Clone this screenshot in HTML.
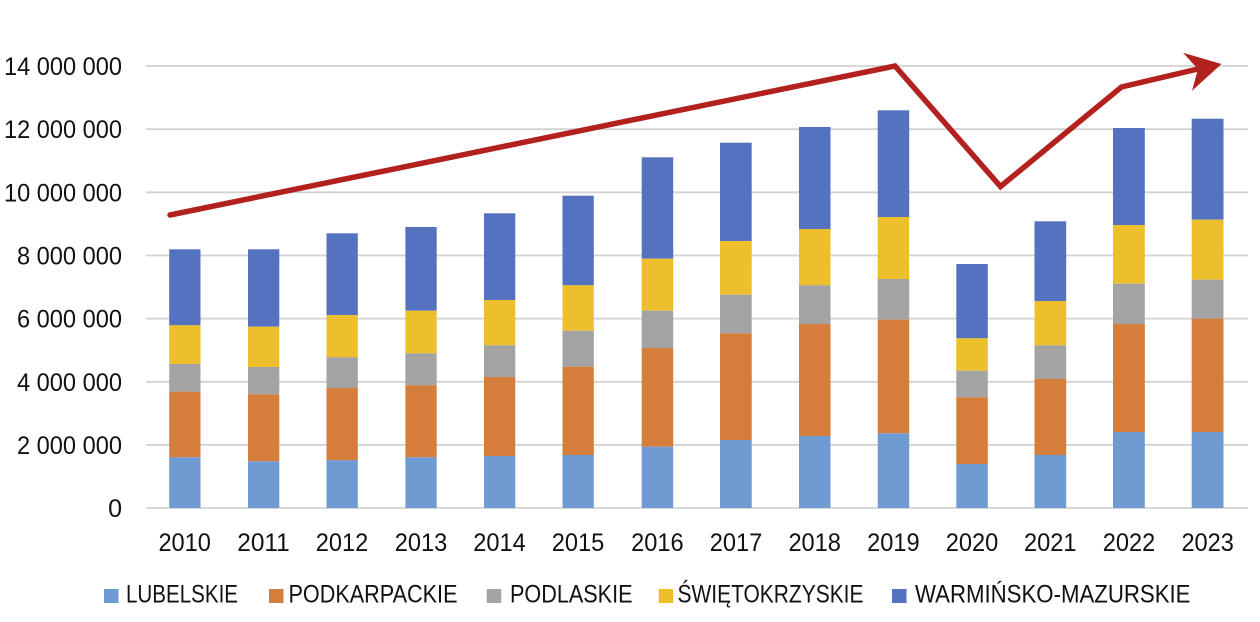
<!DOCTYPE html>
<html>
<head>
<meta charset="utf-8">
<style>
html,body{margin:0;padding:0;background:#fff;}
svg{display:block;}
text{font-family:"Liberation Sans",sans-serif;fill:#111;}
</style>
</head>
<body>
<svg width="1260" height="622" viewBox="0 0 1260 622" xmlns="http://www.w3.org/2000/svg">
<rect width="1260" height="622" fill="#fff"/>
<!-- gridlines -->
<g stroke="#d2d2d2" stroke-width="1.8">
<line x1="146" y1="66" x2="1248" y2="66"/>
<line x1="146" y1="129.2" x2="1248" y2="129.2"/>
<line x1="146" y1="192.3" x2="1248" y2="192.3"/>
<line x1="146" y1="255.5" x2="1248" y2="255.5"/>
<line x1="146" y1="318.6" x2="1248" y2="318.6"/>
<line x1="146" y1="381.8" x2="1248" y2="381.8"/>
<line x1="146" y1="444.9" x2="1248" y2="444.9"/>
<line x1="146" y1="508" x2="1248" y2="508"/>
</g>
<!-- y labels -->
<g font-size="25" text-anchor="end">
<text x="122" y="75" textLength="118" lengthAdjust="spacingAndGlyphs">14 000 000</text>
<text x="122" y="138.2" textLength="118" lengthAdjust="spacingAndGlyphs">12 000 000</text>
<text x="122" y="201.3" textLength="118" lengthAdjust="spacingAndGlyphs">10 000 000</text>
<text x="122" y="264.5" textLength="105" lengthAdjust="spacingAndGlyphs">8 000 000</text>
<text x="122" y="327.6" textLength="105" lengthAdjust="spacingAndGlyphs">6 000 000</text>
<text x="122" y="390.8" textLength="105" lengthAdjust="spacingAndGlyphs">4 000 000</text>
<text x="122" y="453.9" textLength="105" lengthAdjust="spacingAndGlyphs">2 000 000</text>
<text x="122" y="517">0</text>
</g>
<g>
<!-- 2010 -->
<rect x="169.2" y="249.3" width="31.3" height="76" fill="#5572c0"/>
<rect x="169.2" y="325.3" width="31.3" height="38.7" fill="#eebf2d"/>
<rect x="169.2" y="364" width="31.3" height="27.7" fill="#a3a3a3"/>
<rect x="169.2" y="391.7" width="31.3" height="65.6" fill="#d57d3a"/>
<rect x="169.2" y="457.3" width="31.3" height="50.7" fill="#709ad2"/>
<!-- 2011 -->
<rect x="248" y="249.3" width="31.3" height="77.4" fill="#5572c0"/>
<rect x="248" y="326.7" width="31.3" height="40.3" fill="#eebf2d"/>
<rect x="248" y="367" width="31.3" height="27.3" fill="#a3a3a3"/>
<rect x="248" y="394.3" width="31.3" height="67" fill="#d57d3a"/>
<rect x="248" y="461.3" width="31.3" height="46.7" fill="#709ad2"/>
<!-- 2012 -->
<rect x="326.5" y="233.3" width="31.3" height="81.7" fill="#5572c0"/>
<rect x="326.5" y="315" width="31.3" height="42.3" fill="#eebf2d"/>
<rect x="326.5" y="357.3" width="31.3" height="30.7" fill="#a3a3a3"/>
<rect x="326.5" y="388" width="31.3" height="72.3" fill="#d57d3a"/>
<rect x="326.5" y="460.3" width="31.3" height="47.7" fill="#709ad2"/>
<!-- 2013 -->
<rect x="405.4" y="227" width="31.3" height="83.7" fill="#5572c0"/>
<rect x="405.4" y="310.7" width="31.3" height="42.6" fill="#eebf2d"/>
<rect x="405.4" y="353.3" width="31.3" height="32" fill="#a3a3a3"/>
<rect x="405.4" y="385.3" width="31.3" height="72" fill="#d57d3a"/>
<rect x="405.4" y="457.3" width="31.3" height="50.7" fill="#709ad2"/>
<!-- 2014 -->
<rect x="484" y="213.3" width="31.3" height="86.7" fill="#5572c0"/>
<rect x="484" y="300" width="31.3" height="45.3" fill="#eebf2d"/>
<rect x="484" y="345.3" width="31.3" height="31.7" fill="#a3a3a3"/>
<rect x="484" y="377" width="31.3" height="79" fill="#d57d3a"/>
<rect x="484" y="456" width="31.3" height="52" fill="#709ad2"/>
<!-- 2015 -->
<rect x="562.5" y="195.7" width="31.3" height="89.6" fill="#5572c0"/>
<rect x="562.5" y="285.3" width="31.3" height="45.4" fill="#eebf2d"/>
<rect x="562.5" y="330.7" width="31.3" height="36" fill="#a3a3a3"/>
<rect x="562.5" y="366.7" width="31.3" height="88.3" fill="#d57d3a"/>
<rect x="562.5" y="455" width="31.3" height="53" fill="#709ad2"/>
<!-- 2016 -->
<rect x="641.7" y="157.3" width="31.5" height="101.4" fill="#5572c0"/>
<rect x="641.7" y="258.7" width="31.5" height="52" fill="#eebf2d"/>
<rect x="641.7" y="310.7" width="31.5" height="37.3" fill="#a3a3a3"/>
<rect x="641.7" y="348" width="31.5" height="98.7" fill="#d57d3a"/>
<rect x="641.7" y="446.7" width="31.5" height="61.3" fill="#709ad2"/>
<!-- 2017 -->
<rect x="720" y="142.7" width="31.7" height="98.3" fill="#5572c0"/>
<rect x="720" y="241" width="31.7" height="53.7" fill="#eebf2d"/>
<rect x="720" y="294.7" width="31.7" height="38.6" fill="#a3a3a3"/>
<rect x="720" y="333.3" width="31.7" height="106.7" fill="#d57d3a"/>
<rect x="720" y="440" width="31.7" height="68" fill="#709ad2"/>
<!-- 2018 -->
<rect x="799" y="127" width="31.5" height="102" fill="#5572c0"/>
<rect x="799" y="229" width="31.5" height="56.3" fill="#eebf2d"/>
<rect x="799" y="285.3" width="31.5" height="38.7" fill="#a3a3a3"/>
<rect x="799" y="324" width="31.5" height="112" fill="#d57d3a"/>
<rect x="799" y="436" width="31.5" height="72" fill="#709ad2"/>
<!-- 2019 -->
<rect x="877.7" y="110.3" width="31.5" height="106.7" fill="#5572c0"/>
<rect x="877.7" y="217" width="31.5" height="62" fill="#eebf2d"/>
<rect x="877.7" y="279" width="31.5" height="40.7" fill="#a3a3a3"/>
<rect x="877.7" y="319.7" width="31.5" height="113.6" fill="#d57d3a"/>
<rect x="877.7" y="433.3" width="31.5" height="74.7" fill="#709ad2"/>
<!-- 2020 -->
<rect x="956.3" y="264" width="31.5" height="74.3" fill="#5572c0"/>
<rect x="956.3" y="338.3" width="31.5" height="32.4" fill="#eebf2d"/>
<rect x="956.3" y="370.7" width="31.5" height="26.6" fill="#a3a3a3"/>
<rect x="956.3" y="397.3" width="31.5" height="66.7" fill="#d57d3a"/>
<rect x="956.3" y="464" width="31.5" height="44" fill="#709ad2"/>
<!-- 2021 -->
<rect x="1034.5" y="221.3" width="31.7" height="79.7" fill="#5572c0"/>
<rect x="1034.5" y="301" width="31.7" height="44.3" fill="#eebf2d"/>
<rect x="1034.5" y="345.3" width="31.7" height="33.7" fill="#a3a3a3"/>
<rect x="1034.5" y="379" width="31.7" height="76" fill="#d57d3a"/>
<rect x="1034.5" y="455" width="31.7" height="53" fill="#709ad2"/>
<!-- 2022 -->
<rect x="1113" y="128" width="31.8" height="97" fill="#5572c0"/>
<rect x="1113" y="225" width="31.8" height="58.7" fill="#eebf2d"/>
<rect x="1113" y="283.7" width="31.8" height="40.3" fill="#a3a3a3"/>
<rect x="1113" y="324" width="31.8" height="108" fill="#d57d3a"/>
<rect x="1113" y="432" width="31.8" height="76" fill="#709ad2"/>
<!-- 2023 -->
<rect x="1191.7" y="118.7" width="31.8" height="101" fill="#5572c0"/>
<rect x="1191.7" y="219.7" width="31.8" height="60" fill="#eebf2d"/>
<rect x="1191.7" y="279.7" width="31.8" height="39" fill="#a3a3a3"/>
<rect x="1191.7" y="318.7" width="31.8" height="113.3" fill="#d57d3a"/>
<rect x="1191.7" y="432" width="31.8" height="76" fill="#709ad2"/>
</g>
<!-- red trend line -->
<polyline points="170,215 895,66 1000.5,186.5 1121.5,87 1200,68.5" fill="none" stroke="#b3211e" stroke-width="5.5" stroke-linejoin="miter" stroke-miterlimit="10" stroke-linecap="round"/>
<polygon points="1221.5,64 1183,52.7 1198,69 1192,90.7" fill="#b3211e"/>
<!-- x labels -->
<g font-size="25" text-anchor="middle">
<text x="184.7" y="551" textLength="52.5" lengthAdjust="spacingAndGlyphs">2010</text>
<text x="263.5" y="551" textLength="52.5" lengthAdjust="spacingAndGlyphs">2011</text>
<text x="342" y="551" textLength="52.5" lengthAdjust="spacingAndGlyphs">2012</text>
<text x="421" y="551" textLength="52.5" lengthAdjust="spacingAndGlyphs">2013</text>
<text x="499.5" y="551" textLength="52.5" lengthAdjust="spacingAndGlyphs">2014</text>
<text x="578" y="551" textLength="52.5" lengthAdjust="spacingAndGlyphs">2015</text>
<text x="657.4" y="551" textLength="52.5" lengthAdjust="spacingAndGlyphs">2016</text>
<text x="736" y="551" textLength="52.5" lengthAdjust="spacingAndGlyphs">2017</text>
<text x="814.7" y="551" textLength="52.5" lengthAdjust="spacingAndGlyphs">2018</text>
<text x="893.4" y="551" textLength="52.5" lengthAdjust="spacingAndGlyphs">2019</text>
<text x="972" y="551" textLength="52.5" lengthAdjust="spacingAndGlyphs">2020</text>
<text x="1050.3" y="551" textLength="52.5" lengthAdjust="spacingAndGlyphs">2021</text>
<text x="1129" y="551" textLength="52.5" lengthAdjust="spacingAndGlyphs">2022</text>
<text x="1207.7" y="551" textLength="52.5" lengthAdjust="spacingAndGlyphs">2023</text>
</g>
<!-- legend -->
<rect x="104" y="589" width="14.5" height="14" fill="#709ad2"/>
<rect x="269" y="589" width="14.5" height="14" fill="#d57d3a"/>
<rect x="486.7" y="589" width="14.5" height="14" fill="#a3a3a3"/>
<rect x="658.7" y="589" width="14.5" height="14" fill="#eebf2d"/>
<rect x="892" y="589" width="14.5" height="14" fill="#5572c0"/>
<g font-size="25">
<text x="126" y="602.5" textLength="112" lengthAdjust="spacingAndGlyphs">LUBELSKIE</text>
<text x="288.5" y="602.5" textLength="169" lengthAdjust="spacingAndGlyphs">PODKARPACKIE</text>
<text x="510" y="602.5" textLength="122.5" lengthAdjust="spacingAndGlyphs">PODLASKIE</text>
<text x="677.5" y="602.5" textLength="186" lengthAdjust="spacingAndGlyphs">ŚWIĘTOKRZYSKIE</text>
<text x="915" y="602.5" textLength="275.5" lengthAdjust="spacingAndGlyphs">WARMIŃSKO-MAZURSKIE</text>
</g>
</svg>
</body>
</html>
